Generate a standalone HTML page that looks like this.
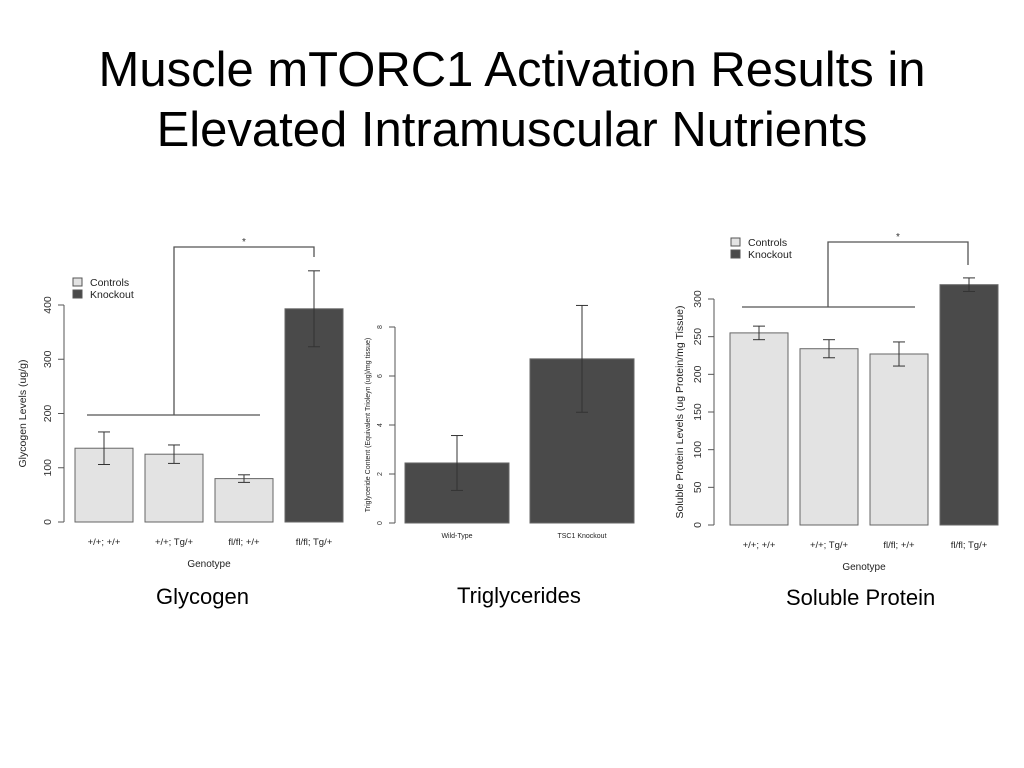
<!DOCTYPE html>
<html><head><meta charset="utf-8"><style>
body{margin:0;background:#fff;width:1024px;height:768px;overflow:hidden;font-family:"Liberation Sans",sans-serif}
#t{position:absolute;top:40px;left:0;width:1024px;text-align:center;font-size:49px;line-height:60px;color:#000;font-family:"Liberation Sans",sans-serif;letter-spacing:0px}
.cap{position:absolute;font-size:22px;color:#000}
svg{position:absolute;left:0;top:0}
</style></head><body>
<div id="t">Muscle mTORC1 Activation Results in<br>Elevated Intramuscular Nutrients</div>
<div class="cap" style="left:156px;top:584px">Glycogen</div>
<div class="cap" style="left:457px;top:583px">Triglycerides</div>
<div class="cap" style="left:786px;top:585px">Soluble Protein</div>
<svg id="s" width="1024" height="768"></svg>
<script>
const glyCats=["+/+; +/+","+/+; Tg/+","fl/fl; +/+","fl/fl; Tg/+"];
const glyVals=[136,125,80,393];
const glyErr=[30,17,7,70];
const glyTicks=[0,100,200,300,400];
const triCats=["Wild-Type","TSC1 Knockout"];
const triVals=[2.45,6.7];
const triErr=[1.12,2.18];
const triTicks=[0,2,4,6,8];
const proCats=["+/+; +/+","+/+; Tg/+","fl/fl; +/+","fl/fl; Tg/+"];
const proVals=[255,234,227,319];
const proErr=[9,12,16,9];
const proTicks=[0,50,100,150,200,250,300];
const NS="http://www.w3.org/2000/svg";
const svg=document.getElementById('s');
function mk(tag,attrs,name,text){const e=document.createElementNS(NS,tag);for(const k in attrs)e.setAttribute(k,attrs[k]);


if(text!==undefined)e.textContent=text;svg.appendChild(e);return e;}
function chart(o){
 const y=v=>o.y0-(v-o.tmin)/(o.tmax-o.tmin)*(o.y0-o.ytop);
 mk('line',{x1:o.ax,x2:o.ax,y1:y(o.ticks[0]),y2:y(o.ticks[o.ticks.length-1]),stroke:'#555'},o.id+'-y-axis');
 o.ticks.forEach(t=>{mk('line',{x1:o.ax-6,x2:o.ax,y1:y(t),y2:y(t),stroke:'#555'},o.id+'-tick');
  const tx=o.ax-13;mk('text',{x:tx,y:y(t),transform:`rotate(-90 ${tx} ${y(t)})`,'text-anchor':'middle','font-size':o.fs,fill:'#333'},o.id+'-tick-label',t);});
 o.vals.forEach((v,i)=>{const x=o.bx+i*o.step;
  mk('rect',{x:x,y:y(v),width:o.bw,height:o.y0-y(v),fill:o.colors[i],stroke:'#666'},o.id+'-bar-'+i);
  const cx=x+o.bw/2;
  mk('line',{x1:cx,x2:cx,y1:y(v+o.err[i]),y2:y(v-o.err[i]),stroke:'#333'},o.id+'-error-bar');
  mk('line',{x1:cx-6,x2:cx+6,y1:y(v+o.err[i]),y2:y(v+o.err[i]),stroke:'#333'},o.id+'-error-cap');
  mk('line',{x1:cx-6,x2:cx+6,y1:y(v-o.err[i]),y2:y(v-o.err[i]),stroke:'#333'},o.id+'-error-cap');
  mk('text',{x:cx,y:o.y0+o.catdy,'text-anchor':'middle','font-size':o.cfs,fill:'#222'},o.id+'-category-label',o.cats[i]);});
 const yl=o.ylx, ym=(o.y0+o.ytop)/2;
 mk('text',{x:yl,y:ym,transform:`rotate(-90 ${yl} ${ym})`,'text-anchor':'middle','font-size':o.yfs,fill:'#222'},o.id+'-y-axis-title',o.ytitle);
 if(o.xtitle)mk('text',{x:(o.bx+o.bx+o.step*(o.vals.length-1)+o.bw)/2,y:o.y0+45,'text-anchor':'middle','font-size':10,fill:'#222'},o.id+'-x-axis-title',o.xtitle);
 if(o.br){const b=o.br;
  mk('polyline',{points:`${b.x1},${b.hy} ${b.x2},${b.hy}`,stroke:'#555','stroke-width':1.3,fill:'none'},o.id+'-bracket-base');
  mk('polyline',{points:`${b.vx},${b.hy} ${b.vx},${b.ty} ${b.rx},${b.ty} ${b.rx},${b.ry}`,stroke:'#555','stroke-width':1.3,fill:'none'},o.id+'-bracket');
  mk('text',{x:(b.vx+b.rx)/2,y:b.ty-2,'text-anchor':'middle','font-size':10,fill:'#333'},o.id+'-significance-star','*');}
 if(o.leg){const l=o.leg;
  mk('rect',{x:l.x,y:l.y,width:9,height:8,fill:'#e3e3e3',stroke:'#555'},o.id+'-legend-swatch-controls');
  mk('text',{x:l.x+17,y:l.y+8,'font-size':10.5,fill:'#222'},o.id+'-legend-controls','Controls');
  mk('rect',{x:l.x,y:l.y+12,width:9,height:8,fill:'#4a4a4a',stroke:'#555'},o.id+'-legend-swatch-knockout');
  mk('text',{x:l.x+17,y:l.y+20,'font-size':10.5,fill:'#222'},o.id+'-legend-knockout','Knockout');}
}
const L='#e3e3e3',D='#4a4a4a';
chart({id:'glycogen',cats:glyCats,vals:glyVals,err:glyErr,ticks:glyTicks,tmin:0,tmax:400,ax:64,y0:522,ytop:305,bx:75,bw:58,step:70,
 colors:[L,L,L,D],fs:10.5,cfs:9.5,catdy:23,ylx:26,yfs:10.5,ytitle:'Glycogen Levels (ug/g)',xtitle:'Genotype',
 br:{x1:87,x2:260,hy:415,vx:174,ty:247,rx:314,ry:257},leg:{x:73,y:278}});
chart({id:'triglyceride',cats:triCats,vals:triVals,err:triErr,ticks:triTicks,tmin:0,tmax:8,ax:395,y0:523,ytop:327,bx:405,bw:104,step:125,
 colors:[D,D],fs:7,cfs:7,catdy:15,ylx:370,yfs:7,ytitle:'Triglyceride Content (Equivalent Trioleyn (ug)/mg tissue)'});
chart({id:'protein',cats:proCats,vals:proVals,err:proErr,ticks:proTicks,tmin:0,tmax:300,ax:714,y0:525,ytop:299,bx:730,bw:58,step:70,
 colors:[L,L,L,D],fs:10.5,cfs:9.5,catdy:23,ylx:683,yfs:10.5,ytitle:'Soluble Protein Levels (ug Protein/mg Tissue)',xtitle:'Genotype',
 br:{x1:742,x2:915,hy:307,vx:828,ty:242,rx:968,ry:265},leg:{x:731,y:238}});
</script>
</body></html>
